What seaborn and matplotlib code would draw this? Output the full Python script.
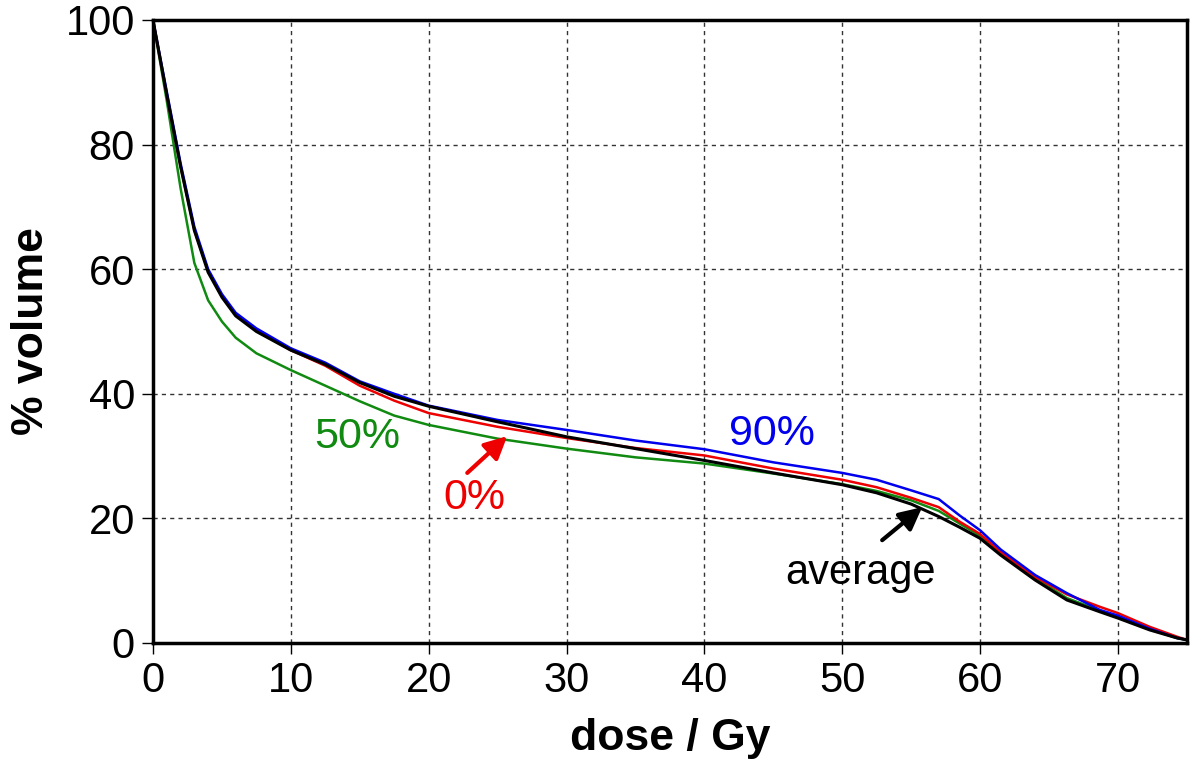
import pandas as pd
import matplotlib
matplotlib.use("Agg")
import matplotlib.pyplot as plt
import seaborn as sns

# dose grid (Gy) shared by all DVH curves
dose = [0, 1, 2, 3, 4, 5, 6, 7.5, 10, 12.5, 15, 17.5, 20, 25, 30, 35, 40, 45,
        50, 52.5, 55, 57, 58.5, 60, 61.5, 64, 66.3, 68.7, 70, 72.3, 74.3, 75]

vol_0 = [100, 88, 76.5, 66.3, 59.7, 55.7, 52.7, 50.2, 47, 44.5, 41.3, 38.9, 36.9,
         34.7, 32.9, 31.3, 30.1, 28, 26.2, 25, 23.3, 21.8, 19.5, 17.5, 14.6,
         10.6, 7.8, 5.8, 4.8, 2.6, 1.0, 0.5]
vol_50 = [100, 87, 73, 61, 55, 51.6, 49, 46.5, 43.8, 41.3, 38.8, 36.5, 35,
          32.8, 31.2, 29.8, 28.8, 27.2, 25.5, 24.4, 22.9, 21.2, 19.2, 17.2, 14.5,
          10.4, 7.2, 5.2, 4.2, 2.2, 0.8, 0.5]
vol_90 = [100, 88.5, 77, 66.8, 60, 56, 53, 50.5, 47.3, 45, 42, 40, 38.1,
          35.8, 34.2, 32.5, 31.1, 29, 27.3, 26.2, 24.5, 23.1, 20.5, 18.1, 15,
          10.9, 8.0, 5.3, 4.4, 2.3, 0.8, 0.5]
vol_avg = [100, 88, 76.5, 66.2, 59.5, 55.5, 52.5, 50, 47, 44.7, 41.8, 39.6, 38,
           35.5, 33.1, 31.2, 29.3, 27.3, 25.4, 24.1, 22.3, 20.3, 18.6, 16.8, 14.1,
           10.1, 6.9, 5.0, 4.0, 2.1, 0.8, 0.5]

x_ticks = [0, 10, 20, 30, 40, 50, 60, 70]
y_ticks = [0, 20, 40, 60, 80, 100]

sns.set_style("white")
plt.rcParams['font.family'] = ['Liberation Sans', 'DejaVu Sans']
plt.rcParams['text.color'] = 'black'

fig = plt.figure(figsize=(12, 7.66), dpi=100)
ax = fig.add_axes([0.1275, 0.1606, 0.8615, 0.8133])

curves = [(vol_50, "#108a10", 1.8), (vol_0, "#ee0000", 1.8),
          (vol_90, "#0000ee", 1.8), (vol_avg, "black", 2.2)]
for vals, col, lw in curves:
    df = pd.DataFrame({"dose": dose, "vol": vals})
    sns.lineplot(data=df, x="dose", y="vol", color=col, lw=lw, sort=False, ax=ax)

ax.set_xlim(0, 75)
ax.set_ylim(0, 100)
ax.set_xticks(x_ticks)
ax.set_yticks(y_ticks)
ax.grid(True, color="#333333", linestyle=(0, (3, 3)), lw=1.0)
for s in ax.spines.values():
    s.set_color("black")
    s.set_linewidth(2.5)
ax.tick_params(axis="both", direction="out", length=8, width=1, labelsize=30,
               labelcolor="black", color="black", left=True, bottom=True, pad=5)

ax.set_xlabel("dose / Gy", fontsize=32, fontweight="bold", labelpad=12, color="black")
ax.set_ylabel("% volume", fontsize=32, fontweight="bold", labelpad=10, color="black")

ax.text(14.8, 33, "50%", color="#108a10", fontsize=31, ha="center", va="center")
ax.text(44.9, 33.5, "90%", color="#0000ee", fontsize=31, ha="center", va="center")
ax.text(23.3, 23.3, "0%", color="#ee0000", fontsize=31, ha="center", va="center")
ax.text(51.3, 11.2, "average", color="black", fontsize=30, ha="center", va="center")

# arrows pointing at the 0% and average curves
ax.annotate("", xy=(25.7, 33.2), xytext=(22.8, 27.3),
            arrowprops=dict(arrowstyle="-|>", color="#ee0000", lw=3,
                            mutation_scale=34, shrinkA=0, shrinkB=0))
ax.annotate("", xy=(55.8, 21.8), xytext=(52.9, 16.5),
            arrowprops=dict(arrowstyle="-|>", color="black", lw=3,
                            mutation_scale=34, shrinkA=0, shrinkB=0))

plt.savefig("out.png", dpi=100)
